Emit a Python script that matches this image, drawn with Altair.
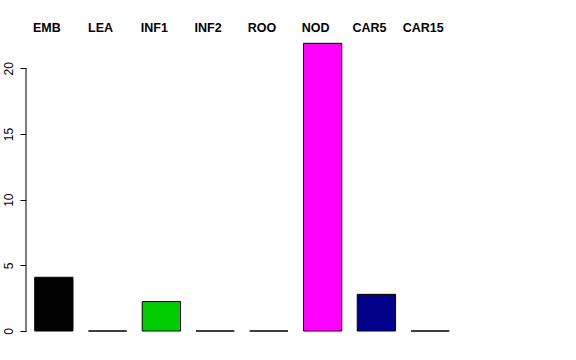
import altair as alt
import pandas as pd

tissues = ["EMB", "LEA", "INF1", "INF2", "ROO", "NOD", "CAR5", "CAR15"]
values = [4.09, 0, 2.24, 0, 0, 21.9, 2.79, 0]
colors = ["#000000", "#FFFFFF", "#00CD00", "#FFFFFF", "#FFFFFF", "#FF00FF", "#00008B", "#FFFFFF"]
y_ticks = [0, 5, 10, 15, 20]

df = pd.DataFrame({"tissue": tissues, "value": values, "color": colors})

FONT = "Liberation Sans"

x_enc = alt.X(
    "tissue:N",
    sort=tissues,
    scale=alt.Scale(paddingInner=0.288, paddingOuter=0.162),
    axis=alt.Axis(
        orient="top", title=None, domain=False, ticks=False, labelAngle=0,
        labelFont=FONT, labelFontWeight="bold", labelFontSize=12.5,
        labelColor="black", labelPadding=8, labelOffset=-7,
    ),
)
y_enc = alt.Y(
    "value:Q",
    scale=alt.Scale(domain=[0, 22], nice=False),
    axis=alt.Axis(
        values=y_ticks, domain=False, grid=False, tickSize=6, tickColor="black",
        labelAngle=270, labelFont=FONT, labelFontSize=12, labelPadding=8,
        labelColor="black", labelAlign="center", labelBaseline="alphabetic",
        title=None,
    ),
)

bars = alt.Chart(df).mark_bar(stroke="black", strokeWidth=1).encode(
    x=x_enc,
    y=y_enc,
    fill=alt.Fill("color:N", scale=None),
)

axis_line = alt.Chart(pd.DataFrame({"lo": [0], "hi": [20]})).mark_rule(
    color="black", strokeWidth=1
).encode(
    x=alt.value(0),
    y=alt.Y("lo:Q"),
    y2=alt.Y2("hi:Q"),
)

chart = alt.layer(bars, axis_line).properties(
    width=432,
    height=289,
    autosize=alt.AutoSizeParams(type="none"),
    padding={"left": 26, "top": 42, "right": 118, "bottom": 29},
    background="white",
).configure_view(stroke=None)

chart.save("out.html", embed_options={"renderer": "svg", "actions": False})
